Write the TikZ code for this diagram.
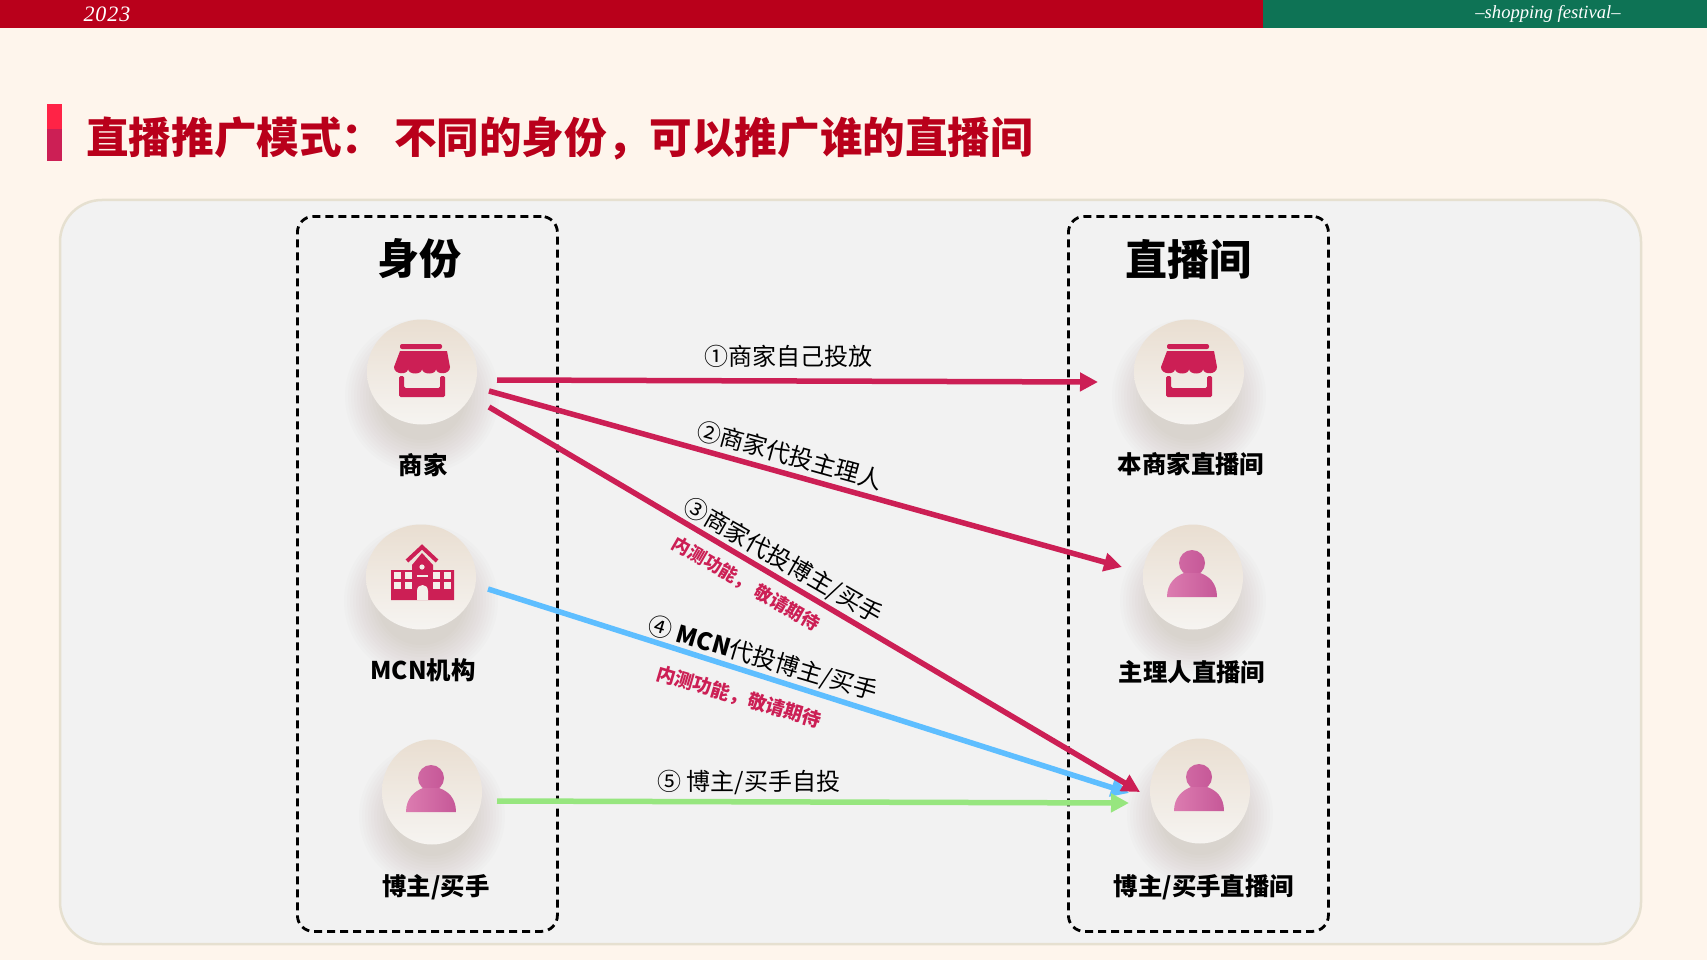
\documentclass[tikz,border=0pt]{standalone}
\usepackage{fontspec}
\usetikzlibrary{arrows.meta,calc,shapes.geometric}
\setmainfont{Noto Sans CJK SC}
\newfontfamily\latinserif{Liberation Serif}
\definecolor{pagebg}{HTML}{FEF5EC}
\definecolor{barred}{HTML}{B9001B}
\definecolor{bargreen}{HTML}{0E7355}
\definecolor{panelbg}{HTML}{F2F2F2}
\definecolor{panelline}{HTML}{E6E0D0}
\definecolor{rose}{HTML}{CC1F55}
\definecolor{markred}{HTML}{FF2346}
\definecolor{skyblue}{HTML}{5EBEFF}
\definecolor{lightgreen}{HTML}{97E67F}
\definecolor{shadowtone}{HTML}{8A7A68}
\definecolor{pinkA}{HTML}{DC7CB0}
\definecolor{pinkB}{HTML}{C65898}
\definecolor{holetone}{HTML}{F3EEE9}
\definecolor{avatartop}{HTML}{E9DED1}
\definecolor{avatarbottom}{HTML}{F6F4F1}
\newcommand{\fsz}[1]{\fontsize{#1pt}{#1pt}\selectfont}
\newcommand{\softshadow}[3]{%
  \foreach \rr in {0,3,...,33}{\fill[shadowtone,opacity=0.018] ($(#1,#2)+(0,24)$) circle [radius=#3pt+\rr pt-8pt];}}
\tikzset{
  x=1pt,y=-1pt,
  avatarbig/.style={ellipse,minimum width=110pt,minimum height=105pt,inner sep=0pt,top color=avatartop,bottom color=avatarbottom},
  avatarsmall/.style={ellipse,minimum width=100pt,minimum height=105pt,inner sep=0pt,top color=avatartop,bottom color=avatarbottom},
  dashbox/.style={draw=black,line width=2.8pt,dash pattern=on 8pt off 5pt,rounded corners=16pt},
  header/.style={font=\fsz{42}\bfseries,text=black},
  rolelabel/.style={font=\fsz{24.4}\bfseries,text=black,inner sep=0pt},
  routelabel/.style={font=\fsz{24},text=black,inner sep=0pt},
  notelabel/.style={font=\fsz{19}\bfseries,text=rose,inner sep=0pt},
  route/.style={line width=5.5pt,-{Triangle[length=18pt,width=18pt]}},
  pics/shopicon/.style={code={
    \fill[rose,rounded corners=2pt] (-22,-28) rectangle (20,-23);
    \fill[rose] (-22,-21) -- (25,-21) -- (28,-5)
      .. controls (28,3) and (14.5,3) .. (14,-3)
      .. controls (14,3) and (0.5,3) .. (0,-3)
      .. controls (0,3) and (-13.5,3) .. (-14,-3)
      .. controls (-14,3) and (-28,3) .. (-28,-5) -- cycle;
    \fill[rose,rounded corners=1.5pt] (-23,4) -- (-18,4) -- (-18,16) -- (18,16) -- (18,4) -- (23,4) -- (23,25) -- (-23,25) -- cycle;
  }},
  pics/personicon/.style={code={
    \shade[left color=pinkA!45!pinkB,right color=pinkB] (-1,-14) circle [radius=13pt];
    \shade[left color=pinkA,right color=pinkB]
      (-26,20) .. controls (-26,6) and (-17,-1) .. (-9,-4) -- (7,-4)
      .. controls (16,-1) and (24,6) .. (24,20) -- cycle;
  }},
  pics/schoolicon/.style={code={
    \draw[rose,line width=4pt] (-14,-16) -- (1,-30) -- (16,-16);
    \fill[rose] (-30,-7) -- (-9,-7) -- (-9,-12) -- (1,-24) -- (12,-12) -- (12,-7) -- (33,-7) -- (33,23) -- (-30,23) -- cycle;
    \fill[holetone] (1,-10) circle [radius=2.6pt];
    \fill[holetone] (-4,-2) rectangle (7,0);
    \fill[holetone] (-4,23) -- (-4,14) .. controls (-4,6) and (7,6) .. (7,14) -- (7,23) -- cycle;
    \foreach \cx in {-27,-16,12,23}{
      \fill[holetone] (\cx,-5) rectangle ++(7,6.5);
      \fill[holetone] (\cx,5) rectangle ++(7,7);
    }
  }},
}
\begin{document}
\begin{tikzpicture}
\useasboundingbox (0,0) rectangle (1707,960);
\fill[pagebg] (0,0) rectangle (1707,960);
% top bars
\fill[barred] (0,0) rectangle (1263,28);
\fill[bargreen] (1263,0) rectangle (1707,28);
\node[text=white,font=\latinserif\itshape\fsz{22}] (year) at (107,14) {2\kern1pt0\kern1pt2\kern1pt3};
\node[text=white,font=\latinserif\itshape\fsz{18.6}] (festival) at (1548,14) {–shopping festival–};
% title
\fill[rose] (47,104) rectangle (62,161);
\fill[markred] (47,104) rectangle (62,129);
\node[anchor=west,inner sep=0pt,text=barred,font=\fsz{42.6}\bfseries] (title) at (86,138) {直播推广模式： 不同的身份，可以推广谁的直播间};
% panel
\draw[fill=panelbg,draw=panelline,line width=2.5pt,rounded corners=42pt] (60,200) rectangle (1641,944);
% shadows
\softshadow{422}{372}{52}
\softshadow{421}{577}{52}
\softshadow{432}{792}{48}
\softshadow{1189}{372}{52}
\softshadow{1193}{577}{48}
\softshadow{1200}{791}{48}
% dashed groups
\node[dashbox,minimum width=260pt,minimum height=715pt,anchor=north west] (idbox) at (296,215) {};
\node[dashbox,minimum width=260pt,minimum height=715pt,anchor=north west] (roombox) at (1067,215) {};
\node[header] (idhead) at (419,259) {身份};
\node[header] (roomhead) at (1188,259) {直播间};
% avatars
\node[avatarbig] (merchant) at (422,372) {};
\node[avatarbig] (mcn) at (421,577) {};
\node[avatarsmall] (blogger) at (432,792) {};
\node[avatarbig] (merchantroom) at (1189,372) {};
\node[avatarsmall] (managerroom) at (1193,577) {};
\node[avatarsmall] (bloggerroom) at (1200,791) {};
\pic at (merchant) {shopicon};
\pic at (merchantroom) {shopicon};
\pic at (mcn) {schoolicon};
\pic at (blogger) {personicon};
\pic at (managerroom) {personicon};
\pic at (bloggerroom) {personicon};
% role labels
\node[rolelabel] (l1) at (423,465) {商家};
\node[rolelabel] (l2) at (423,670) {MCN机构};
\node[rolelabel] (l3) at (436,887) {博主/买手};
\node[rolelabel] (r1) at (1191,464) {本商家直播间};
\node[rolelabel] (r2) at (1192,672) {主理人直播间};
\node[rolelabel] (r3) at (1204,887) {博主/买手直播间};
% connector ends
\coordinate (s1) at ($(merchant)+(75,8)$);
\coordinate (e1) at ($(merchantroom)+(-91,10)$);
\coordinate (s2) at ($(merchant)+(67,19)$);
\coordinate (e2) at ($(managerroom)+(-71,-10)$);
\coordinate (s3) at ($(merchant)+(67,35)$);
\coordinate (e3) at ($(bloggerroom)+(-60,1)$);
\coordinate (s4) at ($(mcn)+(67,12)$);
\coordinate (e4) at ($(bloggerroom)+(-71,2)$);
\coordinate (s5) at ($(blogger)+(65,9)$);
\coordinate (e5) at ($(bloggerroom)+(-71,12)$);
% connectors
\draw[route,skyblue] (s4) -- (e4);
\draw[route,lightgreen] (s5) -- (e5);
\draw[route,rose] (s1) -- (e1);
\draw[route,rose] (s2) -- (e2);
\draw[route,rose] (s3) -- (e3);
% connector labels
\node[routelabel] (t1) at (788,356) {①商家自己投放};
\node[routelabel,rotate=-15.5] (t2) at (790,455) {②商家代投主理人};
\node[routelabel,rotate=-30] (t3) at (783,561) {③商家代投博主/买手};
\node[notelabel,font=\fsz{18}\bfseries,rotate=-30] (n3) at (746,584) {内测功能， 敬请期待};
\node[routelabel,rotate=-16.5] (t4) at (763,659) {④ {\bfseries MCN}代投博主/买手};
\node[notelabel,rotate=-16.5] (n4) at (739,697) {内测功能，敬请期待};
\node[routelabel] (t5) at (749,782) {⑤ 博主/买手自投};
\end{tikzpicture}
\end{document}
